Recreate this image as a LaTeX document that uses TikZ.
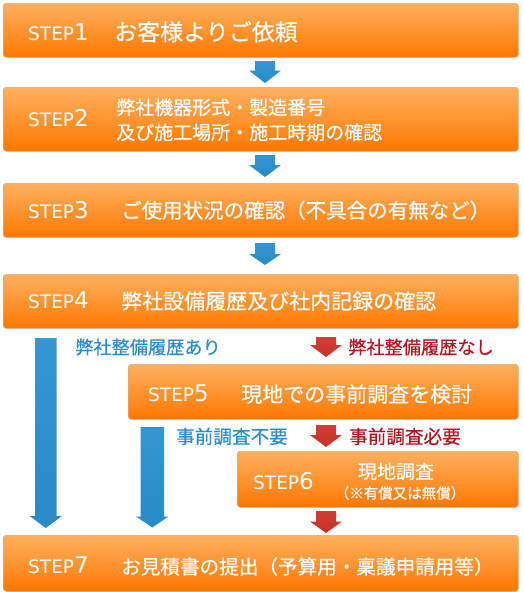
\documentclass[tikz,border=0pt]{standalone}
\usepackage{fontspec}
\setmainfont{Noto Sans CJK JP}[FakeBold=0.4]
\newfontfamily\jpfont{Noto Sans CJK JP}[FakeBold=0.35]
\newfontfamily\lblfont{Noto Sans CJK JP}[FakeBold=0.5]
\newfontfamily\stepfont{DejaVu Sans}
\definecolor{boxtop}{RGB}{255,176,96}
\definecolor{boxbot}{RGB}{255,120,0}
\definecolor{boxedge}{RGB}{215,170,130}
\definecolor{arrblue}{RGB}{40,138,198}
\definecolor{arrbluetop}{RGB}{52,150,210}
\definecolor{arrred}{RGB}{196,50,40}
\definecolor{arrredtop}{RGB}{210,62,50}
\definecolor{lblblue}{RGB}{42,140,200}
\definecolor{lblred}{RGB}{176,20,30}
\newcommand\stepnum[1]{{\stepfont\fontsize{18.5}{18.5}\selectfont STEP}{\stepfont\fontsize{23}{23}\selectfont #1}}
\newcommand\blockarrow[8]{% name, colour top, colour bottom, cx, ytop, yshoulder, ytip
  \coordinate (#1) at (#4,#5);
  \shade[top color=#2, bottom color=#3]
    ({#4-\hb},#5) -- ({#4+\hb},#5) -- ({#4+\hb},#6) -- ({#4+\hh},#6) -- (#4,#7)
    -- ({#4-\hh},#6) -- ({#4-\hb},#6) -- cycle;}
\begin{document}
\begin{tikzpicture}[x=1pt,y=-1pt,
  stepbox/.style={rounded corners=3pt, top color=boxtop, bottom color=boxbot,
    draw=boxedge, line width=0.6pt, inner sep=0pt, anchor=north west},
  steptext/.style={text=white, inner sep=0pt, anchor=base west},
  jp/.style={text=white, inner sep=0pt, anchor=base west},
  lbl/.style={inner sep=0pt, anchor=base west}]
\useasboundingbox (0,0) rectangle (524,592);

% boxes
\node[stepbox, minimum width=515pt, minimum height=54pt] (s1) at (3,3) {};
\node[stepbox, minimum width=515pt, minimum height=64pt] (s2) at (3,87) {};
\node[stepbox, minimum width=515pt, minimum height=54pt] (s3) at (3,183) {};
\node[stepbox, minimum width=515pt, minimum height=54pt] (s4) at (3,274) {};
\node[stepbox, minimum width=390pt, minimum height=55pt] (s5) at (128,364) {};
\node[stepbox, minimum width=281pt, minimum height=56pt] (s6) at (237,451) {};
\node[stepbox, minimum width=515pt, minimum height=56pt] (s7) at (3,535) {};

% STEP labels
\node[steptext] (p1) at (28,40.7) {\stepnum{1}};
\node[steptext] (p2) at (28,126.7) {\stepnum{2}};
\node[steptext] (p3) at (28,218.3) {\stepnum{3}};
\node[steptext] (p4) at (28,308.3) {\stepnum{4}};
\node[steptext] (p5) at (148,401.7) {\stepnum{5}};
\node[steptext] (p6) at (253,489) {\stepnum{6}};
\node[steptext] (p7) at (28,573.3) {\stepnum{7}};

% texts
\node[jp, font=\jpfont\fontsize{23}{23}\selectfont] (j1) at (114,40.5) {お客様よりご依頼};
\node[jp, font=\jpfont\fontsize{19}{19}\selectfont] (j2a) at (116,114.5) {弊社機器形式・製造番号};
\node[jp, font=\jpfont\fontsize{19}{19}\selectfont] (j2b) at (116,139.5) {及び施工場所・施工時期の確認};
\node[jp, font=\jpfont\fontsize{20.5}{20.5}\selectfont] (j3) at (121,218) {ご使用状況の確認（不具合の有無など）};
\node[jp, font=\jpfont\fontsize{21}{21}\selectfont] (j4) at (121,309) {弊社設備履歴及び社内記録の確認};
\node[jp, font=\jpfont\fontsize{21}{21}\selectfont] (j5) at (241,402) {現地での事前調査を検討};
\node[jp, anchor=base, font=\jpfont\fontsize{19}{19}\selectfont] (j6a) at (396,478.5) {現地調査};
\node[jp, anchor=base, font=\jpfont\fontsize{14.5}{14.5}\selectfont] (j6b) at (400,498.5) {（※有償又は無償）};
\node[jp, font=\jpfont\fontsize{19.6}{19.6}\selectfont] (j7) at (121,574) {お見積書の提出（予算用・稟議申請用等）};

% branch labels
\node[lbl, text=lblblue, font=\lblfont\fontsize{18.2}{18.2}\selectfont] (l1) at (75,354) {弊社整備履歴あり};
\node[lbl, text=lblred, font=\lblfont\fontsize{18.2}{18.2}\selectfont] (l2) at (348,354) {弊社整備履歴なし};
\node[lbl, text=lblblue, font=\lblfont\fontsize{18.6}{18.6}\selectfont] (l3) at (176,443.5) {事前調査不要};
\node[lbl, text=lblred, font=\lblfont\fontsize{18.6}{18.6}\selectfont] (l4) at (349,443.5) {事前調査必要};

% arrows
\def\hb{10}\def\hh{16}
\blockarrow{a1}{arrbluetop}{arrblue}{265}{61}{70.5}{83}{}
\blockarrow{a2}{arrbluetop}{arrblue}{265}{155}{165}{177}{}
\blockarrow{a3}{arrbluetop}{arrblue}{265}{243}{254}{265}{}
\blockarrow{r1}{arrredtop}{arrred}{326}{337}{345}{357}{}
\blockarrow{r2}{arrredtop}{arrred}{326}{425}{435}{447}{}
\blockarrow{r3}{arrredtop}{arrred}{326}{511}{521.5}{533}{}
\def\hb{10.8}\def\hh{16.2}
\blockarrow{b1}{arrbluetop}{arrblue}{45.8}{338}{516}{528}{}
\def\hb{11.7}\def\hh{16.2}
\blockarrow{b2}{arrbluetop}{arrblue}{152.3}{427}{516.5}{527.5}{}
\end{tikzpicture}
\end{document}
